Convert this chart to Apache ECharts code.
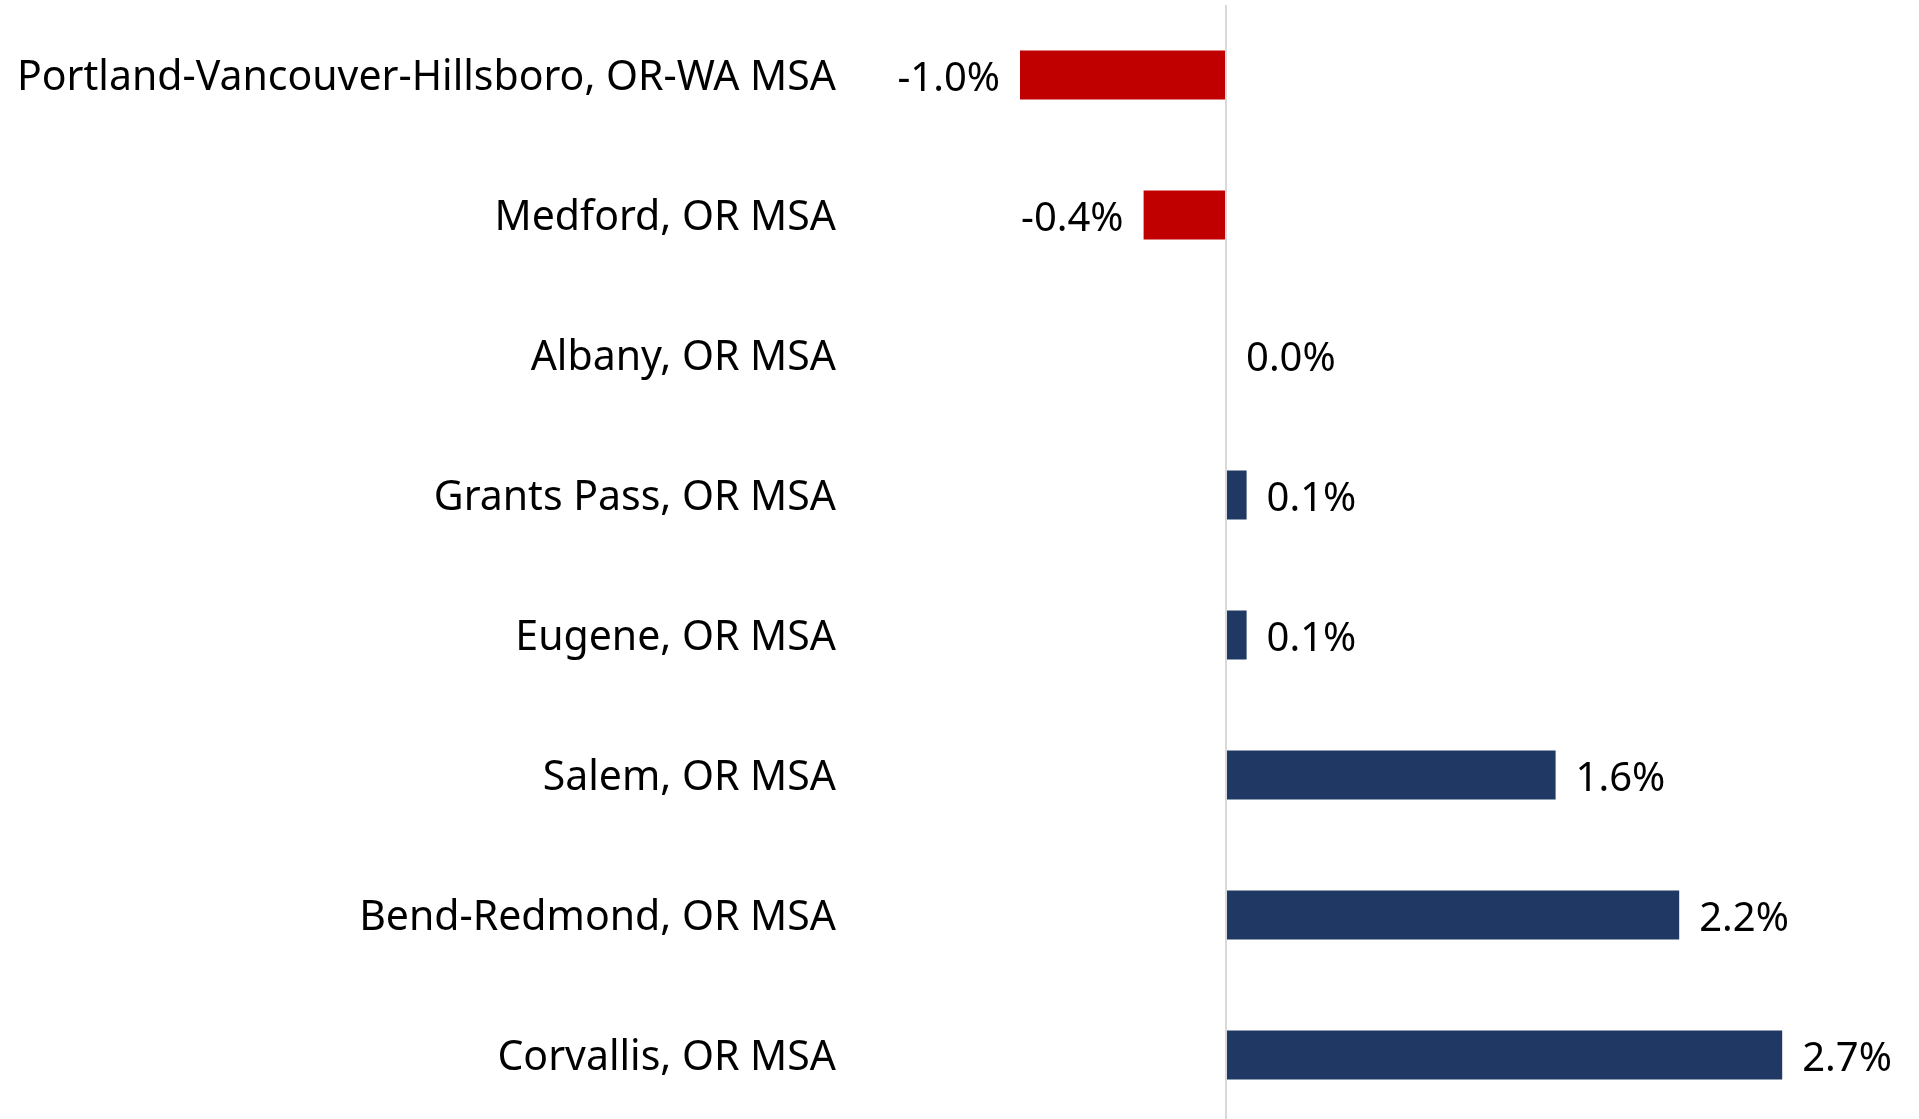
<!DOCTYPE html>
<html><head><meta charset="utf-8">
<script src="https://cdn.jsdelivr.net/npm/echarts@6/dist/echarts.min.js"></script>
<style>html,body{margin:0;padding:0;background:#fff;overflow:hidden}#c{width:1919px;height:1130px}</style>
</head><body><div id="c"></div>
<script>
const categories = [
  "Portland-Vancouver-Hillsboro, OR-WA MSA",
  "Medford, OR MSA",
  "Albany, OR MSA",
  "Grants Pass, OR MSA",
  "Eugene, OR MSA",
  "Salem, OR MSA",
  "Bend-Redmond, OR MSA",
  "Corvallis, OR MSA"
];
const values = [-1.0, -0.4, 0.0, 0.1, 0.1, 1.6, 2.2, 2.7];

const NEG = '#C00000', POS = '#203864';
const FONT = '"Noto Sans", "Open Sans", sans-serif';

const chart = echarts.init(document.getElementById('c'));
chart.setOption({
  animation: false,
  grid: { left: 917, right: 75, top: 5, height: 1120, containLabel: false },
  xAxis: {
    type: 'value', min: -1.5, max: 3,
    show: false
  },
  yAxis: {
    type: 'category', data: categories, inverse: true,
    axisLine: { show: false }, axisTick: { show: false },
    axisLabel: {
      margin: 81, color: '#000', fontFamily: FONT, fontSize: 41,
      formatter: v => '{a|' + v + '}',
      rich: { a: { color: '#000', fontFamily: FONT, fontSize: 41, padding: [6, 0, 0, 0] } }
    }
  },
  series: [{
    type: 'bar',
    barWidth: 49,
    data: values.map(v => ({
      value: v,
      itemStyle: { color: v < 0 ? NEG : POS },
      label: { position: v < 0 ? 'left' : 'right' }
    })),
    label: {
      show: true, distance: 20, color: '#000', fontFamily: FONT, fontSize: 40, offset: [0, 5],
      formatter: p => p.value.toFixed(1) + '%'
    },
    markLine: {
      silent: true, symbol: 'none', label: { show: false },
      lineStyle: { color: '#D9D9D9', width: 2, type: 'solid' },
      data: [{ xAxis: 0 }]
    }
  }]
});
</script></body></html>
